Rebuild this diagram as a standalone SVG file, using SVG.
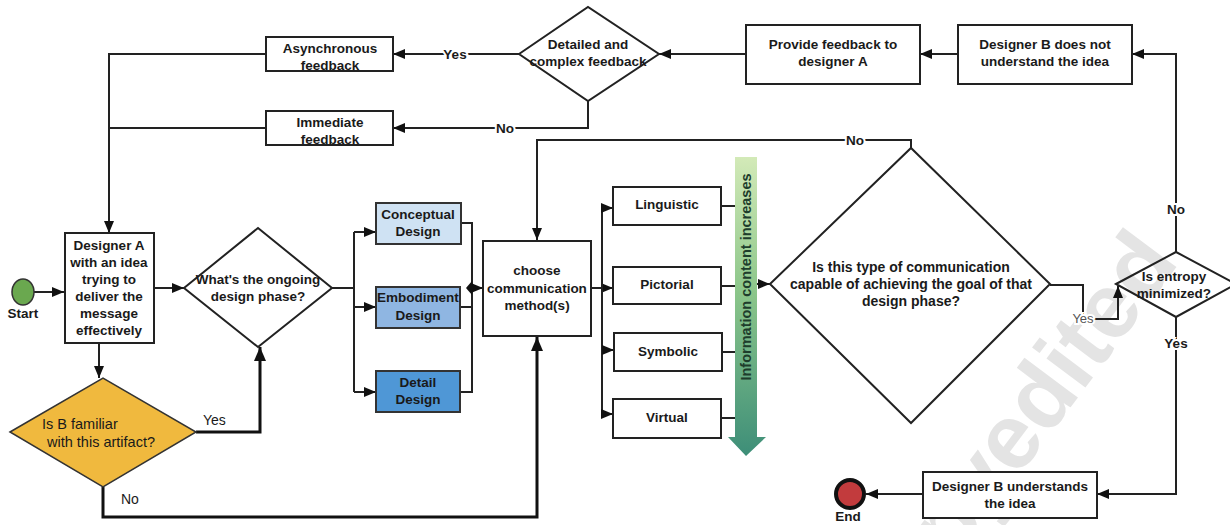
<svg xmlns="http://www.w3.org/2000/svg" width="1230" height="525" viewBox="0 0 1230 525">
<defs>
<style>
.t{font-family:"Liberation Sans",Arial,sans-serif;font-weight:bold;font-size:13.5px;fill:#1a1a1a;text-anchor:middle}
.r{font-family:"Liberation Sans",Arial,sans-serif;font-size:14px;fill:#1a1a1a}
.box{fill:#fff;stroke:#222;stroke-width:2}
.ln{fill:none;stroke:#222;stroke-width:2}
.thick{fill:none;stroke:#111;stroke-width:3}
.lbl{paint-order:stroke;stroke:#fff;stroke-width:4px}
.wm{font-family:"Liberation Sans",Arial,sans-serif;font-weight:bold;font-size:92px;fill:#e4e4e4}
</style>
<marker id="ah" markerWidth="12" markerHeight="10" refX="12" refY="5" orient="auto" markerUnits="userSpaceOnUse">
<path d="M0,0 L12,5 L0,10 Z" fill="#111"/>
</marker>
<marker id="ahb" markerWidth="14" markerHeight="12" refX="14" refY="6" orient="auto" markerUnits="userSpaceOnUse">
<path d="M0,0 L14,6 L0,12 Z" fill="#111"/>
</marker>
<linearGradient id="grad" x1="0" y1="0" x2="0" y2="1">
<stop offset="0" stop-color="#d3eab8"/>
<stop offset="0.45" stop-color="#8cc68a"/>
<stop offset="1" stop-color="#3d8e78"/>
</linearGradient>
</defs>
<rect width="1230" height="525" fill="#fff"/>
<text class="wm" transform="translate(1180,262) rotate(-53)" text-anchor="end">Copyedited</text>

<g id="connectors">
<path class="ln" d="M34,292 H64" marker-end="url(#ah)"/>
<path class="ln" d="M154,288 H184" marker-end="url(#ah)"/>
<path class="ln" d="M99,343 V378" marker-end="url(#ah)"/>
<path class="thick" d="M196,432 H260 V347" marker-end="url(#ahb)"/>
<path class="thick" d="M103,487 V517 H537 V337" marker-end="url(#ahb)"/>
<path class="ln" d="M332,288 H354"/>
<path class="ln" d="M354,232 V392"/>
<path class="ln" d="M354,232 H376" marker-end="url(#ah)"/>
<path class="ln" d="M354,307 H376" marker-end="url(#ah)"/>
<path class="ln" d="M354,392 H376" marker-end="url(#ah)"/>
<path class="ln" d="M461,223 H472 V392 H460"/>
<path class="ln" d="M460,307 H472"/>
<path class="ln" d="M472,288 H483" marker-end="url(#ah)"/>
<path d="M466,288 L472,281 L472,295 Z" fill="#111"/>
<path class="ln" d="M591,288 H613" marker-end="url(#ah)"/>
<path class="ln" d="M602,208 V414"/>
<path class="ln" d="M602,208 H613" marker-end="url(#ah)"/>
<path class="ln" d="M602,350 H614" marker-end="url(#ah)"/>
<path class="ln" d="M602,414 H613" marker-end="url(#ah)"/>
<path class="ln" d="M721,206 H735"/>
<path class="ln" d="M721,286 H735"/>
<path class="ln" d="M722,352 H735"/>
<path class="ln" d="M721,418 H735"/>
<path class="ln" d="M757,284 H770" marker-end="url(#ah)"/>
<path class="ln" d="M911,148 V140 H537 V240" marker-end="url(#ah)"/>
<path class="ln" d="M1050,285 H1083 V319 H1118 V286" marker-end="url(#ah)"/>
<path class="ln" d="M1176,252 V54 H1132" marker-end="url(#ah)"/>
<path class="ln" d="M1176,317 V494 H1097" marker-end="url(#ah)"/>
<path class="ln" d="M923,494 H866" marker-end="url(#ah)"/>
<path class="ln" d="M958,54 H920" marker-end="url(#ah)"/>
<path class="ln" d="M746,54 H659" marker-end="url(#ah)"/>
<path class="ln" d="M519,54 H393" marker-end="url(#ah)"/>
<path class="ln" d="M588,101 V128 H393" marker-end="url(#ah)"/>
<path class="ln" d="M266,54 H109 V233" marker-end="url(#ah)"/>
<path class="ln" d="M266,128 H109"/>
<text class="t lbl" x="455" y="59">Yes</text>
<text class="t lbl" x="505" y="133">No</text>
<text class="t lbl" x="855" y="145">No</text>
<text class="t lbl" x="1176" y="214">No</text>
<text class="t lbl" x="1176" y="348">Yes</text>
<text class="r lbl" x="1083" y="323" text-anchor="middle" style="fill:#555;font-size:13px">Yes</text>
<text class="r" x="203" y="425">Yes</text>
<text class="r" x="121" y="504">No</text>
</g>

<g id="start">
<ellipse cx="23" cy="292" rx="11" ry="13" fill="#6aa84f" stroke="#333" stroke-width="1.5"/>
<text class="t" x="23" y="318">Start</text>
</g>

<g id="designerA">
<rect class="box" x="65" y="233" width="89" height="110"/>
<text class="t" x="109" y="250">Designer A</text>
<text class="t" x="109" y="267">with an idea</text>
<text class="t" x="109" y="284">trying to</text>
<text class="t" x="109" y="301">deliver the</text>
<text class="t" x="109" y="318">message</text>
<text class="t" x="109" y="335">effectively</text>
</g>

<g id="isBfamiliar">
<polygon points="10,432 103,378 196,432 103,487" fill="#f0b93e" stroke="#333" stroke-width="1.5"/>
<text class="r" x="42" y="429" style="font-size:14.5px">Is B familiar</text>
<text class="r" x="47" y="447" style="font-size:14.5px">with this artifact?</text>
</g>

<g id="phaseQuestion">
<polygon class="box" points="184,288 258,228 332,288 258,347"/>
<text class="t" x="258" y="284">What's the ongoing</text>
<text class="t" x="258" y="301">design phase?</text>
</g>

<g id="conceptual">
<rect x="376" y="203" width="85" height="41" fill="#cfe2f3" stroke="#333" stroke-width="2"/>
<text class="t" x="418" y="219">Conceptual</text>
<text class="t" x="418" y="236">Design</text>
</g>
<g id="embodiment">
<rect x="376" y="287" width="84" height="41" fill="#8fb6e2" stroke="#333" stroke-width="2"/>
<text class="t" x="418" y="302">Embodiment</text>
<text class="t" x="418" y="320">Design</text>
</g>
<g id="detail">
<rect x="376" y="371" width="84" height="41" fill="#4f97d6" stroke="#333" stroke-width="2"/>
<text class="t" x="418" y="387">Detail</text>
<text class="t" x="418" y="404">Design</text>
</g>

<g id="choose">
<rect class="box" x="483" y="241" width="108" height="95"/>
<text class="t" x="537" y="275">choose</text>
<text class="t" x="537" y="293">communication</text>
<text class="t" x="537" y="310">method(s)</text>
</g>

<g id="linguistic">
<rect class="box" x="613" y="187" width="108" height="38"/>
<text class="t" x="667" y="209">Linguistic</text>
</g>
<g id="pictorial">
<rect class="box" x="613" y="267" width="108" height="37"/>
<text class="t" x="667" y="289">Pictorial</text>
</g>
<g id="symbolic">
<rect class="box" x="614" y="333" width="108" height="38"/>
<text class="t" x="668" y="356">Symbolic</text>
</g>
<g id="virtual">
<rect class="box" x="613" y="399" width="108" height="39"/>
<text class="t" x="667" y="422">Virtual</text>
</g>

<g id="infoArrow">
<path d="M735,157 H757 V437 H766 L746,456 L728,437 H735 Z" fill="url(#grad)"/>
<text class="t" transform="translate(751,277) rotate(-90)" style="fill:#1e3d2c;font-size:14.5px">Information content increases</text>
</g>

<g id="capableQuestion">
<polygon class="box" points="770,284 911,148 1050,284 911,423"/>
<text class="t" x="911" y="272" style="font-size:14px">Is this type of communication</text>
<text class="t" x="911" y="289" style="font-size:14px">capable of  achieving the goal of that</text>
<text class="t" x="911" y="306" style="font-size:14px">design phase?</text>
</g>

<g id="entropy">
<polygon class="box" points="1116,284 1176,252 1236,284 1176,317" style="fill:none"/>
<text class="t" x="1174" y="281">Is entropy</text>
<text class="t" x="1174" y="298">minimized?</text>
</g>

<g id="notUnderstand">
<rect class="box" x="958" y="25" width="174" height="59"/>
<text class="t" x="1045" y="49">Designer B does not</text>
<text class="t" x="1045" y="66">understand the idea</text>
</g>

<g id="provideFeedback">
<rect class="box" x="746" y="25" width="174" height="59"/>
<text class="t" x="833" y="49">Provide feedback to</text>
<text class="t" x="833" y="66">designer A</text>
</g>

<g id="detailedQuestion">
<polygon class="box" points="519,54 588,7 659,54 588,101"/>
<text class="t" x="588" y="49">Detailed and</text>
<text class="t" x="588" y="66">complex feedback</text>
</g>

<g id="asynchronous">
<rect class="box" x="266" y="37" width="127" height="34"/>
<text class="t" x="330" y="53">Asynchronous</text>
<text class="t" x="330" y="70">feedback</text>
</g>

<g id="immediate">
<rect class="box" x="266" y="111" width="127" height="34"/>
<text class="t" x="330" y="127">Immediate</text>
<text class="t" x="330" y="144">feedback</text>
</g>

<g id="understands">
<rect class="box" x="923" y="472" width="174" height="46"/>
<text class="t" x="1010" y="491">Designer B understands</text>
<text class="t" x="1010" y="508">the idea</text>
</g>

<g id="end">
<circle cx="850" cy="494" r="14" fill="#c23b3d" stroke="#111" stroke-width="4"/>
<text class="t" x="848" y="521">End</text>
</g>
</svg>
